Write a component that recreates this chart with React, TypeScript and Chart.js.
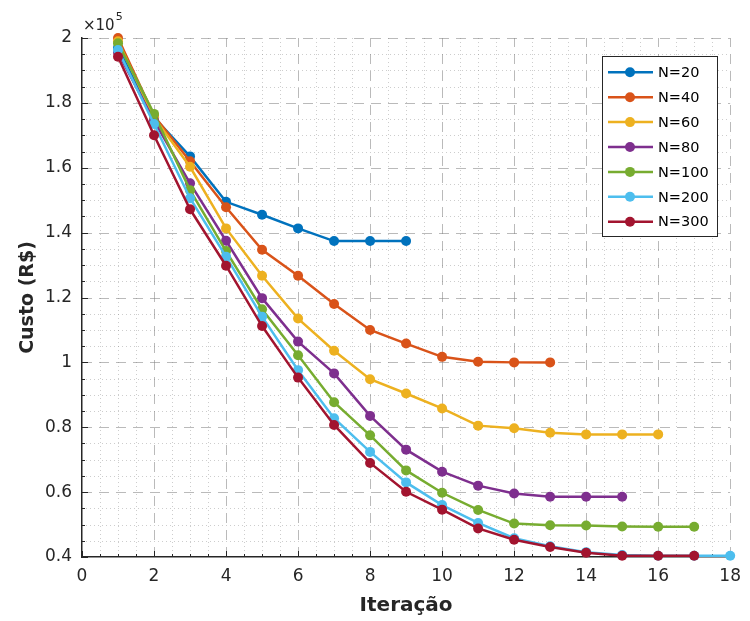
import React, { useEffect, useRef } from "react";
import { Chart, registerables } from "chart.js";

Chart.register(...registerables);

const seriesNames = ["N=20", "N=40", "N=60", "N=80", "N=100", "N=200", "N=300"];
const seriesColors = ["#0072BD", "#D95319", "#EDB120", "#7E2F8E", "#77AC30", "#4DBEEE", "#A2142F"];

// Custo (R$) per iteração (starting at iteração 1)
const n20 = [197000, 175500, 163500, 149500, 145500, 141300, 137400, 137400, 137400];
const n40 = [200000, 176000, 162000, 147800, 134700, 126700, 118000, 110000, 105800, 101700, 100200, 100000, 100000];
const n60 = [199000, 175500, 160300, 141300, 126700, 113500, 103600, 94800, 90400, 85800, 80500, 79700, 78300, 77800, 77800, 77800];
const n80 = [195500, 174500, 155200, 137500, 119800, 106400, 96600, 83500, 73100, 66300, 62000, 59600, 58600, 58600, 58600];
const n100 = [198400, 176600, 153100, 134300, 116400, 102200, 87700, 77500, 66700, 59800, 54500, 50300, 49800, 49700, 49400, 49300, 49300];
const n200 = [196300, 173500, 150600, 132600, 114100, 97600, 82800, 72400, 63000, 56000, 50500, 45800, 43300, 41500, 40600, 40400, 40400, 40400];
const n300 = [194200, 170000, 147200, 129800, 111200, 95300, 80700, 69000, 60100, 54600, 48800, 45300, 43100, 41300, 40400, 40400, 40400];

const seriesValues = [n20, n40, n60, n80, n100, n200, n300];

const xMin = 0;
const xMax = 18;
const xStep = 2;
const yMin = 40000;
const yMax = 200000;
const yStep = 20000;
const yExponentLabel = "5";

const FONT = "'DejaVu Sans', sans-serif";
const TEXT_COLOR = "#262626";

const gridPlugin = {
  id: "matlabGrid",
  beforeDatasetsDraw(chart: any) {
    const { ctx, chartArea, scales } = chart;
    const xs = scales.x;
    const ys = scales.y;
    const { left, right, top, bottom } = chartArea;
    ctx.save();
    // minor dotted grid
    ctx.strokeStyle = "rgba(130,130,130,0.4)";
    ctx.lineWidth = 1;
    ctx.setLineDash([1, 3]);
    for (let v = xMin; v <= xMax + 1e-9; v += xStep / 4) {
      if (Math.abs(v / xStep - Math.round(v / xStep)) < 1e-6) continue;
      const px = Math.round(xs.getPixelForValue(v)) + 0.5;
      ctx.beginPath();
      ctx.moveTo(px, top);
      ctx.lineTo(px, bottom);
      ctx.stroke();
    }
    for (let v = yMin; v <= yMax + 1e-6; v += yStep / 4) {
      if (Math.abs(v / yStep - Math.round(v / yStep)) < 1e-6) continue;
      const py = Math.round(ys.getPixelForValue(v)) + 0.5;
      ctx.beginPath();
      ctx.moveTo(left, py);
      ctx.lineTo(right, py);
      ctx.stroke();
    }
    // major dashed grid
    ctx.strokeStyle = "rgba(130,130,130,0.55)";
    ctx.setLineDash([10, 7]);
    for (let v = xMin + xStep; v <= xMax + 1e-9; v += xStep) {
      const px = Math.round(xs.getPixelForValue(v)) + 0.5;
      ctx.beginPath();
      ctx.moveTo(px, bottom);
      ctx.lineTo(px, top);
      ctx.stroke();
    }
    for (let v = yMin + yStep; v <= yMax + 1e-6; v += yStep) {
      const py = Math.round(ys.getPixelForValue(v)) + 0.5;
      ctx.beginPath();
      ctx.moveTo(left, py);
      ctx.lineTo(right, py);
      ctx.stroke();
    }
    // inward tick marks
    ctx.setLineDash([]);
    ctx.strokeStyle = TEXT_COLOR;
    ctx.lineWidth = 1;
    for (let v = xMin; v <= xMax + 1e-9; v += xStep / 4) {
      const major = Math.abs(v / xStep - Math.round(v / xStep)) < 1e-6;
      const px = Math.round(xs.getPixelForValue(v)) + 0.5;
      ctx.beginPath();
      ctx.moveTo(px, bottom);
      ctx.lineTo(px, bottom - (major ? 6 : 3));
      ctx.stroke();
    }
    for (let v = yMin; v <= yMax + 1e-6; v += yStep / 4) {
      const major = Math.abs(v / yStep - Math.round(v / yStep)) < 1e-6;
      const py = Math.round(ys.getPixelForValue(v)) + 0.5;
      ctx.beginPath();
      ctx.moveTo(left, py);
      ctx.lineTo(left + (major ? 6 : 3), py);
      ctx.stroke();
    }
    ctx.restore();
  },
  afterDraw(chart: any) {
    const { ctx, chartArea } = chart;
    ctx.save();
    // exponent label
    ctx.fillStyle = TEXT_COLOR;
    ctx.textBaseline = "middle";
    ctx.textAlign = "left";
    ctx.font = `15px ${FONT}`;
    const base = "\u00d710";
    ctx.fillText(base, chartArea.left + 1, 26);
    const w = ctx.measureText(base).width;
    ctx.font = `11px ${FONT}`;
    ctx.fillText(yExponentLabel, chartArea.left + 1 + w + 1, 17);

    // legend
    const bx = 602.5;
    const by = 56.5;
    const bw = 115;
    const bh = 180;
    ctx.fillStyle = "#ffffff";
    ctx.fillRect(bx, by, bw, bh);
    ctx.strokeStyle = TEXT_COLOR;
    ctx.lineWidth = 1;
    ctx.strokeRect(bx, by, bw, bh);
    seriesNames.forEach((name, i) => {
      const y = 72.3 + i * 24.9;
      ctx.strokeStyle = seriesColors[i];
      ctx.lineWidth = 2.5;
      ctx.beginPath();
      ctx.moveTo(608, y);
      ctx.lineTo(653, y);
      ctx.stroke();
      ctx.fillStyle = seriesColors[i];
      ctx.beginPath();
      ctx.arc(630, y, 5, 0, Math.PI * 2);
      ctx.fill();
      ctx.fillStyle = "#000000";
      ctx.font = `14.5px ${FONT}`;
      ctx.textAlign = "left";
      ctx.textBaseline = "middle";
      ctx.fillText(name, 658, y + 1);
    });
    ctx.restore();
  },
};

export default function App() {
  const canvasRef = useRef<HTMLCanvasElement | null>(null);

  useEffect(() => {
    const canvas = canvasRef.current;
    if (!canvas) return;
    const datasets = seriesValues.map((vals, i) => ({
      label: seriesNames[i],
      data: vals.map((v, k) => ({ x: k + 1, y: v })),
      borderColor: seriesColors[i],
      backgroundColor: seriesColors[i],
      pointBackgroundColor: seriesColors[i],
      pointBorderColor: seriesColors[i],
      pointRadius: 5,
      pointBorderWidth: 0,
      borderWidth: 2.5,
      tension: 0,
      clip: false as any,
      order: seriesNames.length - i,
    }));
    const chart = new Chart(canvas, {
      type: "line",
      data: { datasets },
      options: {
        animation: false,
        responsive: false,
        devicePixelRatio: 1,
        layout: { padding: { left: 0, top: 38, right: 11, bottom: 0 } },
        plugins: { legend: { display: false }, tooltip: { enabled: false } },
        scales: {
          x: {
            type: "linear",
            min: xMin,
            max: xMax,
            grid: { display: false, drawTicks: false },
            border: { display: true, color: TEXT_COLOR, width: 1.5 },
            ticks: {
              stepSize: xStep,
              color: TEXT_COLOR,
              font: { family: FONT, size: 17 },
              padding: 9,
              maxRotation: 0,
            },
            title: {
              display: true,
              text: "Iteração",
              color: TEXT_COLOR,
              font: { family: FONT, size: 20, weight: "bold" },
              padding: { top: 0, bottom: 3 },
            },
            afterFit: (s: any) => {
              s.height = 64;
            },
          },
          y: {
            type: "linear",
            min: yMin,
            max: yMax,
            grid: { display: false, drawTicks: false },
            border: { display: true, color: TEXT_COLOR, width: 1.5 },
            ticks: {
              stepSize: yStep,
              color: TEXT_COLOR,
              font: { family: FONT, size: 17 },
              padding: 10,
              callback: (v: any) => String(Number((Number(v) / 1e5).toFixed(1))),
            },
            title: {
              display: true,
              text: "Custo (R$)",
              color: TEXT_COLOR,
              font: { family: FONT, size: 19, weight: "bold" },
              padding: { top: 17, bottom: 0 },
            },
            afterFit: (s: any) => {
              s.width = 82;
            },
          },
        },
      },
      plugins: [gridPlugin],
    });
    return () => chart.destroy();
  }, []);

  return (
    <div style={{ position: "fixed", left: 0, top: 0, width: 750, height: 621, background: "#ffffff" }}>
      <canvas ref={canvasRef} width={750} height={621} />
    </div>
  );
}
